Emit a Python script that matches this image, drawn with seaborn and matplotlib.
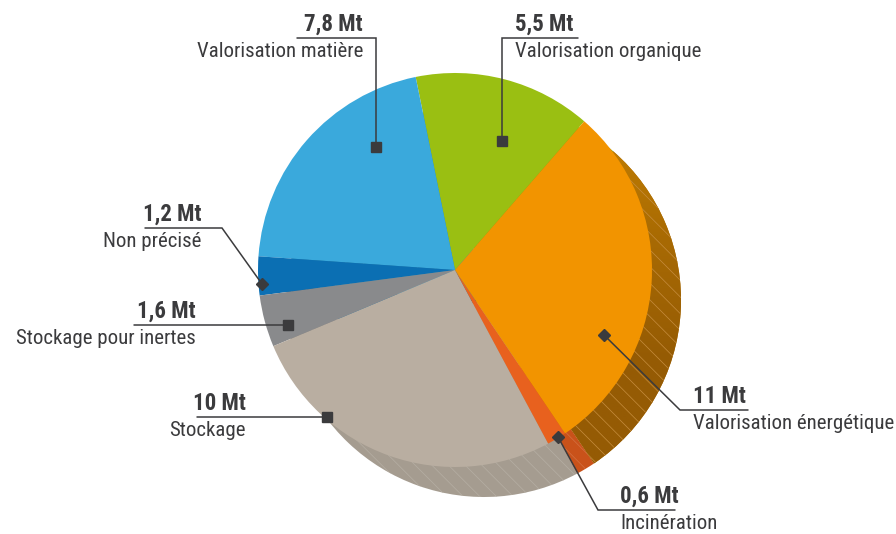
import matplotlib
matplotlib.use("Agg")
import matplotlib.pyplot as plt
from matplotlib import font_manager
from matplotlib.colors import to_rgba, LinearSegmentedColormap
import seaborn as sns
import numpy as np

sns.set_style("white")
installed = {f.name for f in font_manager.fontManager.ttflist}
family = next(f for f in ['Liberation Sans Narrow', 'Roboto Condensed', 'Liberation Sans',
                          'Roboto', 'DejaVu Sans'] if f in installed)
plt.rcParams['font.family'] = [family, 'DejaVu Sans']
plt.rcParams['hatch.linewidth'] = 0.5

# data, counterclockwise from the top right
labels = ["Valorisation organique", "Valorisation matière", "Non précisé",
          "Stockage pour inertes", "Stockage", "Incinération",
          "Valorisation énergétique"]
values = [5.5, 7.8, 1.2, 1.6, 10, 0.6, 11]
value_text = ["5,5 Mt", "7,8 Mt", "1,2 Mt", "1,6 Mt", "10 Mt", "0,6 Mt", "11 Mt"]
colors = ["#9abf12", "#3aa9dc", "#0b6fb3", "#898a8c", "#b9aea1", "#e8611e", "#f29400"]
side_colors = ["#7f9e0f", "#2e88b1", "#095a90", "#6f7072", "#a59c90", "#c9521a", "#ad6c02"]

cx, cy, r = 455, 270, 197
dx, dy = 29, 30
total = sum(values)


def lighter(c, f=0.18):
    rgb = np.array(to_rgba(c)[:3])
    return tuple(rgb + (1 - rgb) * f) + (1,)


fig = plt.figure(figsize=(8.96, 5.34), dpi=100)
ax = fig.add_axes([0, 0, 1, 1])

# extruded side: same pie shifted down-right
side, _ = ax.pie(values, colors=side_colors, radius=r, center=(cx + dx, cy + dy),
                 startangle=-49, counterclock=False, frame=True)
for w, c in zip(side, side_colors):
    w.set_hatch('\\\\')
    w.set_linewidth(0)
    w._hatch_color = lighter(c)

# dark-to-light shading on the orange side
grad = np.linspace(0, 1, 256).reshape(-1, 1)
cmap = LinearSegmentedColormap.from_list(
    "side", ["#955b04", "#955b04", "#a86a03", "#c48002"])
im = ax.imshow(grad, cmap=cmap, extent=(400, 700, 120, 480), aspect='auto', zorder=1.5)
im.set_clip_path(side[-1])
over, _ = ax.pie([values[-1] / total], colors=["none"], radius=r, center=(cx + dx, cy + dy),
                 startangle=-49 - 360 * (total - values[-1]) / total,
                 counterclock=False, frame=True, normalize=False,
                 wedgeprops=dict(linewidth=0, hatch='\\\\', zorder=1.6))
over[0]._hatch_color = to_rgba("#c68d3e")

# top face
top, _ = ax.pie(values, colors=colors, radius=r, center=(cx, cy),
                startangle=-49, counterclock=False, frame=True,
                wedgeprops=dict(linewidth=0, zorder=2))
ax.set_xlim(0, 896)
ax.set_ylim(534, 0)
ax.set_aspect('equal')
ax.axis('off')

ink = "#3b3b3d"
markers = [(502, 141), (376, 147), (262, 284), (288, 325), (327, 417), (558, 437), (604, 335)]
elbows = [(502, 38), (376, 38), (222, 228), (288, 325), (327, 417), (598, 510), (680, 410)]
line_ends = [578, 297, 145, 134, 197, 675, 748]
text_x = [515, 363, 201, 196, 246, 620, 693]
aligns = ["left", "right", "right", "right", "right", "left", "left"]
mstyle = ["s", "s", "D", "s", "s", "D", "D"]

for i in range(len(values)):
    mx, my = markers[i]
    ex, ey = elbows[i]
    ax.plot([mx, ex, line_ends[i]], [my, ey, ey], color=ink, lw=1.1,
            solid_joinstyle='miter', zorder=3)
    ax.plot(mx, my, marker=mstyle[i], color=ink, ms=7 if mstyle[i] == "s" else 6, zorder=4)
    ax.text(text_x[i], ey - 2, value_text[i], ha=aligns[i], va='bottom',
            fontsize=16.5, fontweight='bold', color=ink)
    ax.text(text_x[i], ey + 4, labels[i], ha=aligns[i], va='top',
            fontsize=15, color=ink)

fig.savefig("out.png", dpi=100)
